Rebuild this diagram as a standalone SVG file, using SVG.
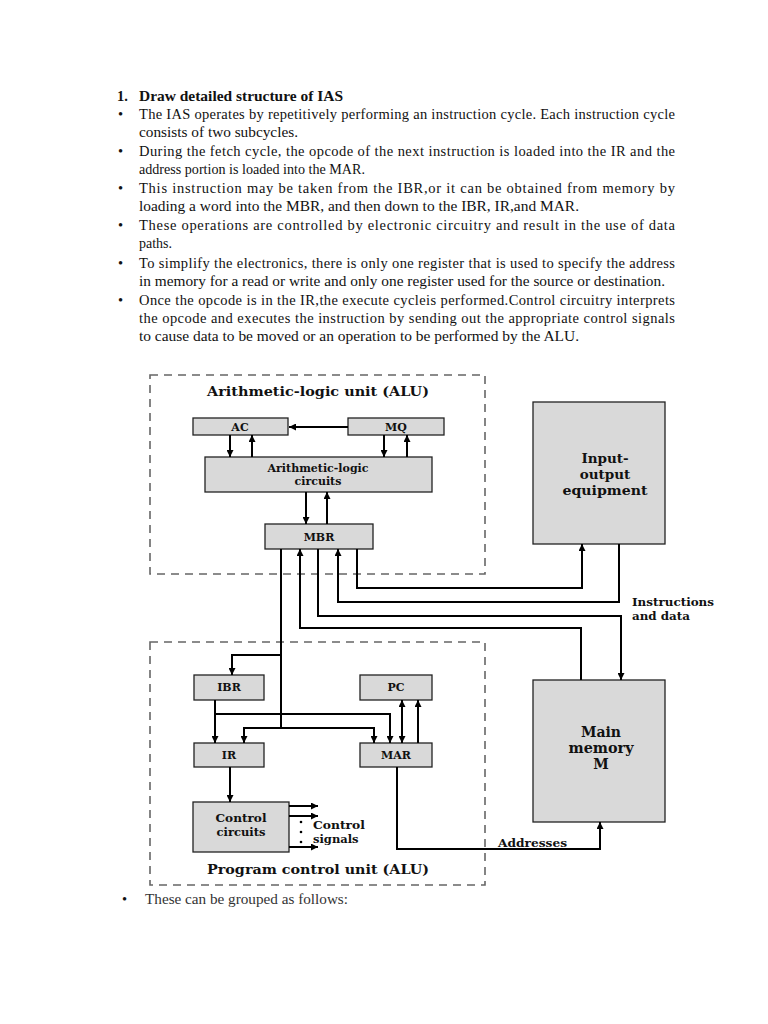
<svg xmlns="http://www.w3.org/2000/svg" width="768" height="1024" viewBox="0 0 768 1024">
<style>
.body{font-family:"Liberation Serif","Times New Roman",serif;font-size:14.5px;fill:#111}
.lbl{font-family:"DejaVu Serif","Liberation Serif",serif;font-weight:bold;fill:#111;text-anchor:middle}
.ls{text-anchor:start}
.box{fill:#d9d9d9;stroke:#222;stroke-width:1.3}
.dash{fill:none;stroke:#666;stroke-width:1.6;stroke-dasharray:8 6}
.c{fill:none;stroke:#000;stroke-width:2}
</style>
<defs>
<marker id="ah" viewBox="0 0 10 10" refX="10" refY="5" markerWidth="7" markerHeight="7" markerUnits="userSpaceOnUse" orient="auto-start-reverse">
<path d="M0,0 L10,5 L0,10 z" fill="#000"/>
</marker>
</defs>
<rect width="768" height="1024" fill="#fff"/>

<g id="text">
<text class="body" x="117" y="101" font-weight="bold">1.</text>
<text class="body" x="139" y="101" font-weight="bold" textLength="204" lengthAdjust="spacingAndGlyphs">Draw detailed structure of IAS</text>
<g class="body">
<text x="118" y="119">•</text>
<text x="139" y="119" textLength="536" lengthAdjust="spacing">The IAS operates by repetitively performing an instruction cycle. Each instruction cycle</text>
<text x="139" y="137" textLength="159" lengthAdjust="spacingAndGlyphs">consists of two subcycles.</text>
<text x="118" y="156">•</text>
<text x="139" y="156" textLength="536" lengthAdjust="spacing">During the fetch cycle, the opcode of the next instruction is loaded into the IR and the</text>
<text x="139" y="174" textLength="226" lengthAdjust="spacingAndGlyphs">address portion is loaded into the MAR.</text>
<text x="118" y="193">•</text>
<text x="139" y="193" textLength="536" lengthAdjust="spacing">This instruction may be taken from the IBR,or it can be obtained from memory by</text>
<text x="139" y="211" textLength="440" lengthAdjust="spacingAndGlyphs">loading a word into the MBR, and then down to the IBR, IR,and MAR.</text>
<text x="118" y="230">•</text>
<text x="139" y="230" textLength="536" lengthAdjust="spacing">These operations are controlled by electronic circuitry and result in the use of data</text>
<text x="139" y="248" textLength="33" lengthAdjust="spacingAndGlyphs">paths.</text>
<text x="118" y="268">•</text>
<text x="139" y="268" textLength="536" lengthAdjust="spacing">To simplify the electronics, there is only one register that is used to specify the address</text>
<text x="139" y="286" textLength="526" lengthAdjust="spacingAndGlyphs">in memory for a read or write and only one register used for the source or destination.</text>
<text x="118" y="305">•</text>
<text x="139" y="305" textLength="536" lengthAdjust="spacing">Once the opcode is in the IR,the execute cycleis performed.Control circuitry interprets</text>
<text x="139" y="323" textLength="536" lengthAdjust="spacing">the opcode and executes the instruction by sending out the appropriate control signals</text>
<text x="139" y="341" textLength="440" lengthAdjust="spacingAndGlyphs">to cause data to be moved or an operation to be performed by the ALU.</text>
<text x="122" y="904">•</text>
<text x="145" y="904" fill="#333" textLength="203" lengthAdjust="spacingAndGlyphs">These can be grouped as follows:</text>
</g>
</g>

<g id="alu-unit">
<rect class="dash" x="150" y="375" width="335" height="199"/>
<text class="lbl" x="318" y="396" font-size="13" textLength="222" lengthAdjust="spacingAndGlyphs">Arithmetic-logic unit (ALU)</text>
</g>
<g id="pcu-unit">
<rect class="dash" x="150" y="642" width="335" height="243"/>
<text class="lbl" x="318" y="874" font-size="13" textLength="222" lengthAdjust="spacingAndGlyphs">Program control unit (ALU)</text>
</g>

<g id="AC"><rect class="box" x="193" y="418" width="95" height="17"/><text class="lbl" x="240" y="431" font-size="11">AC</text></g>
<g id="MQ"><rect class="box" x="348" y="418" width="96" height="17"/><text class="lbl" x="396" y="431" font-size="11">MQ</text></g>
<g id="ALC"><rect class="box" x="205" y="457" width="227" height="35"/><text class="lbl" x="318" y="472" font-size="11" textLength="101" lengthAdjust="spacingAndGlyphs">Arithmetic-logic</text><text class="lbl" x="318" y="485" font-size="11">circuits</text></g>
<g id="MBR"><rect class="box" x="265" y="524" width="108" height="25"/><text class="lbl" x="319" y="541" font-size="11">MBR</text></g>
<g id="IO"><rect class="box" x="533" y="402" width="132" height="142"/><text class="lbl" x="605" y="463" font-size="13.5">Input-</text><text class="lbl" x="605" y="479" font-size="13.5">output</text><text class="lbl" x="605" y="495" font-size="13.5" textLength="85" lengthAdjust="spacingAndGlyphs">equipment</text></g>
<g id="MEM"><rect class="box" x="533" y="680" width="132" height="142"/><text class="lbl" x="601" y="737" font-size="14">Main</text><text class="lbl" x="601" y="753" font-size="14" textLength="65" lengthAdjust="spacingAndGlyphs">memory</text><text class="lbl" x="601" y="769" font-size="14">M</text></g>
<g id="IBR"><rect class="box" x="194" y="675" width="70" height="25"/><text class="lbl" x="229" y="691" font-size="11">IBR</text></g>
<g id="PC"><rect class="box" x="360" y="675" width="72" height="25"/><text class="lbl" x="396" y="691" font-size="11">PC</text></g>
<g id="IR"><rect class="box" x="194" y="743" width="70" height="24"/><text class="lbl" x="229" y="759" font-size="11">IR</text></g>
<g id="MAR"><rect class="box" x="360" y="743" width="72" height="24"/><text class="lbl" x="396" y="759" font-size="11">MAR</text></g>
<g id="CTRL"><rect class="box" x="193" y="802" width="96" height="50"/><text class="lbl" x="241" y="822" font-size="11.5" textLength="51" lengthAdjust="spacingAndGlyphs">Control</text><text class="lbl" x="241" y="836" font-size="11.5">circuits</text></g>

<g id="connectors">
<path class="c" d="M348,427 H289" marker-end="url(#ah)"/>
<path class="c" d="M230,435 V457" marker-end="url(#ah)"/>
<path class="c" d="M252,457 V435" marker-end="url(#ah)"/>
<path class="c" d="M384,435 V457" marker-end="url(#ah)"/>
<path class="c" d="M407,457 V435" marker-end="url(#ah)"/>
<path class="c" d="M306,492 V524" marker-end="url(#ah)"/>
<path class="c" d="M327,524 V492" marker-end="url(#ah)"/>

<path class="c" d="M281,549 V728"/>
<path class="c" d="M281,655 H232 V675" marker-end="url(#ah)"/>
<path class="c" d="M281,728 H244 V743" marker-end="url(#ah)"/>
<path class="c" d="M281,728 H374 V743" marker-end="url(#ah)"/>
<path class="c" d="M581,680 V628 H300 V549" marker-end="url(#ah)"/>
<path class="c" d="M318,549 V616 H621 V680" marker-end="url(#ah)"/>
<path class="c" d="M619,544 V602 H338 V549" marker-end="url(#ah)"/>
<path class="c" d="M357,549 V588 H582 V544" marker-end="url(#ah)"/>

<path class="c" d="M215,700 V743" marker-end="url(#ah)"/>
<path class="c" d="M215,714 H390 V743" marker-end="url(#ah)"/>
<path class="c" d="M402,700 V743" marker-start="url(#ah)" marker-end="url(#ah)"/>
<path class="c" d="M418,743 V700" marker-end="url(#ah)"/>
<path class="c" d="M230,767 V802" marker-end="url(#ah)"/>
<path class="c" d="M289,806 H318" marker-end="url(#ah)" stroke-width="1.6"/>
<path class="c" d="M289,816 H318" marker-end="url(#ah)" stroke-width="1.6"/>
<path class="c" d="M289,847 H318" marker-end="url(#ah)" stroke-width="1.6"/>
<path class="c" d="M397,767 V849 H600 V822" marker-end="url(#ah)"/>

<circle cx="301" cy="822" r="1.3" fill="#000"/>
<circle cx="301" cy="832" r="1.3" fill="#000"/>
<circle cx="301" cy="842" r="1.3" fill="#000"/>
<text class="lbl ls" x="313" y="829" font-size="11.5" textLength="52" lengthAdjust="spacingAndGlyphs">Control</text>
<text class="lbl ls" x="313" y="843" font-size="11.5">signals</text>
<text class="lbl ls" x="632" y="606" font-size="10.5" textLength="82" lengthAdjust="spacingAndGlyphs">Instructions</text>
<text class="lbl ls" x="632" y="620" font-size="10.5" textLength="58" lengthAdjust="spacingAndGlyphs">and data</text>
<text class="lbl ls" x="498" y="847" font-size="10.5" textLength="69" lengthAdjust="spacingAndGlyphs">Addresses</text>
</g>
</svg>
